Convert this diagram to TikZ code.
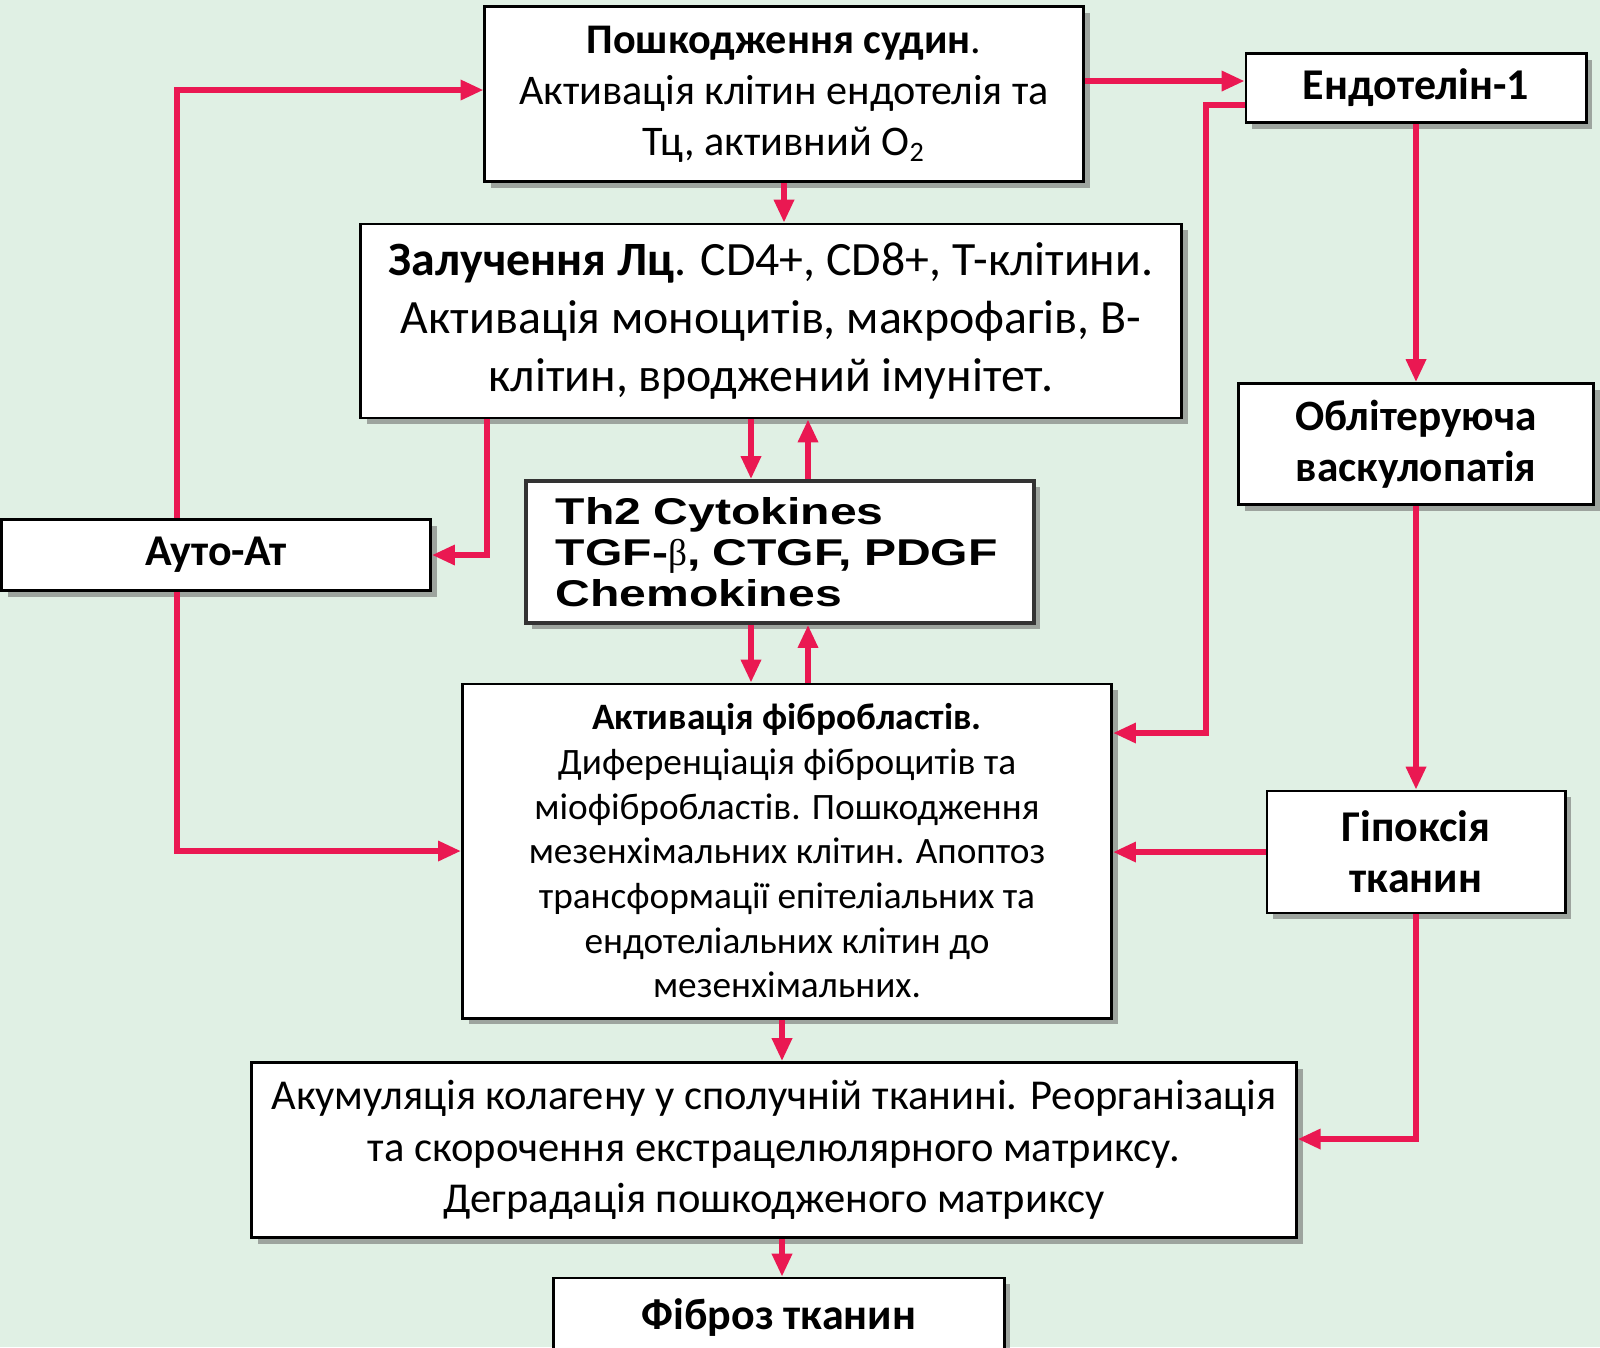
\documentclass[tikz,border=0pt]{standalone}
\usepackage{fontspec}
\setmainfont{Carlito}
\newfontfamily\thfont[FakeStretch=1.29]{Liberation Sans}
\newfontfamily\betafont{Liberation Serif}
\usetikzlibrary{arrows.meta,shadows}
\definecolor{bgmint}{RGB}{224,240,228}
\definecolor{linkred}{RGB}{234,24,82}
\tikzset{
  box/.style={draw=black,line width=0.8pt,fill=white,align=center,inner sep=2pt,
    drop shadow={shadow xshift=1.8pt,shadow yshift=-1.8pt,fill=black!60,opacity=0.55}},
  link/.style={draw=linkred,line width=1.5pt,-{Triangle[length=6.5pt,width=5.5pt]}}
}

\begin{document}
\begin{tikzpicture}[x=0.01cm,y=-0.01cm]
        \useasboundingbox (0,0) rectangle (1600,1347);
        \fill[bgmint] (0,0) rectangle (1600,1347);
        \clip (0,0) rectangle (1600,1347);
        \node[box,minimum width=5.98cm,minimum height=1.75cm,font=\fontsize{12}{14.5}\selectfont] (dam) at (784,94)
            {\textbf{Пошкодження судин}.\\Активація клітин ендотелія та\\Тц, активний O\textsubscript{2}};
        \node[box,minimum width=3.40cm,minimum height=0.69cm,font=\fontsize{12.5}{14.5}\selectfont\bfseries] (endo) at (1416,88) {Ендотелін-1};
        \node[box,minimum width=8.21cm,minimum height=1.94cm,font=\fontsize{13.6}{16.4}\selectfont] (lc) at (771,321)
            {\textbf{Залучення Лц}. CD4+, CD8+, Т-клітини.\\Активація моноцитів, макрофагів, В-\\клітин, вроджений імунітет.};
        \node[box,draw=black!80,line width=1.1pt,text width=4.48cm,inner xsep=0.3cm,minimum height=1.42cm,align=left,
            font=\thfont\bfseries\fontsize{10.6}{11.7}\selectfont] (th) at (780,552)
            {Th2 Cytokines\\TGF-{\betafont\mdseries β}, CTGF, PDGF\\Chemokines};
        \node[box,minimum width=4.29cm,minimum height=0.71cm,font=\fontsize{12.5}{14.5}\selectfont\bfseries] (auto) at (216,555) {Ауто-Ат};
        \node[box,minimum width=3.55cm,minimum height=1.21cm,font=\fontsize{12.3}{14.5}\selectfont\bfseries] (obl) at (1416,444)
            {Облітеруюча\\васкулопатія};
        \node[box,minimum width=6.49cm,minimum height=3.34cm,font=\fontsize{10.6}{12.7}\selectfont] (fib) at (787,851)
            {\textbf{Активація фібробластів.}\\Диференціація фіброцитів та\\міофібробластів. Пошкодження\\мезенхімальних клітин. Апоптоз\\трансформації епітеліальних та\\ендотеліальних клітин до\\мезенхімальних.};
        \node[box,minimum width=2.98cm,minimum height=1.22cm,font=\fontsize{12.5}{14.5}\selectfont\bfseries] (hyp) at (1416,852)
            {Гіпоксія\\тканин};
        \node[box,minimum width=10.44cm,minimum height=1.75cm,font=\fontsize{12.1}{14.7}\selectfont] (acc) at (774,1150)
            {Акумуляція колагену у сполучній тканині. Реорганізація\\та скорочення екстрацелюлярного матриксу.\\Деградація пошкодженого матриксу};
        \node[box,minimum width=4.50cm,minimum height=0.78cm,font=\fontsize{12.5}{14.5}\selectfont\bfseries] (fbr) at (779,1317) {Фіброз тканин};

        \draw[link] (dam.south) -- (lc.north -| dam.south);
        \draw[link] (dam.east |- 0,81) -- (endo.west |- 0,81);
        \draw[link] (endo.west |- 0,105) -| (1206,733) -- (fib.east |- 0,733);
        \draw[link] (endo.south) -- (obl.north);
        \draw[link] (obl.south) -- (hyp.north);
        \draw[link] (hyp.west) -- (fib.east |- hyp.west);
        \draw[link] (hyp.south) |- (acc.east |- 0,1139);
        \draw[link] (auto.north -| 177,0) |- (dam.west |- 0,90);
        \draw[link] (auto.south -| 177,0) |- (fib.west);
        \draw[link] (lc.south -| 487,0) |- (auto.east);
        \draw[link] (lc.south -| 751,0) -- (th.north -| 751,0);
        \draw[link] (th.north -| 808,0) -- (lc.south -| 808,0);
        \draw[link] (th.south -| 751,0) -- (fib.north -| 751,0);
        \draw[link] (fib.north -| 808,0) -- (th.south -| 808,0);
        \draw[link] (fib.south -| 782,0) -- (acc.north -| 782,0);
        \draw[link] (acc.south -| 782,0) -- (fbr.north -| 782,0);
\end{tikzpicture}
\end{document}
